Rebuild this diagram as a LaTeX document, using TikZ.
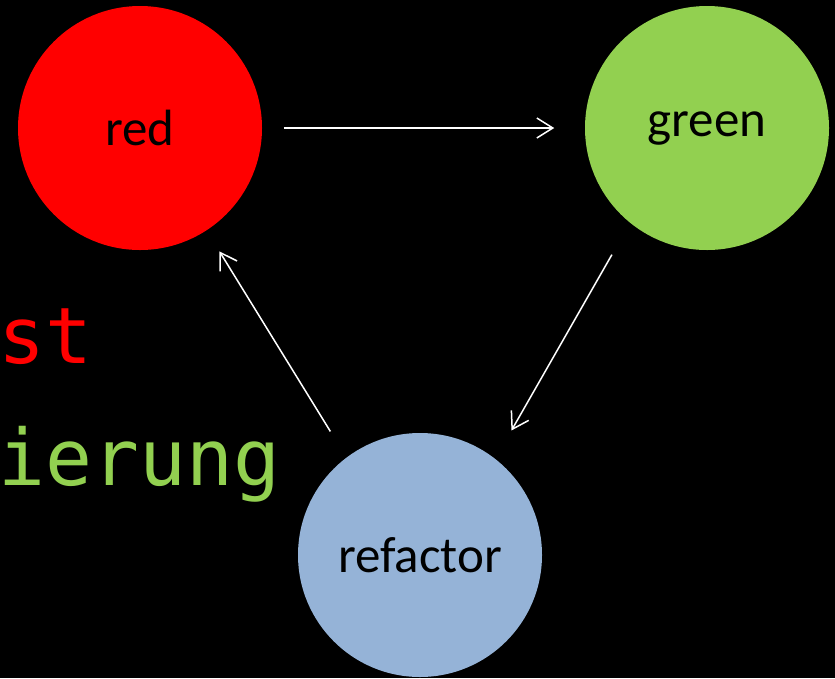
\documentclass[tikz,border=0pt]{standalone}
\usepackage{fontspec}
\setmainfont{Carlito}
\newfontfamily\codefont{DejaVu Sans Mono}
\usetikzlibrary{arrows.meta}

\definecolor{tddred}{RGB}{255,0,0}
\definecolor{tddgreen}{RGB}{146,208,80}
\definecolor{tddblue}{RGB}{149,179,215}

\begin{document}
\begin{tikzpicture}[x=1pt,y=-1pt,->,>={Straight Barb[length=16pt,width=20pt]},
  line width=1.5pt,
  main node/.style={circle,minimum size=244pt,inner sep=0pt,font=\fontsize{51}{61}\selectfont},
  code text/.style={anchor=base west,inner sep=0pt,font=\codefont\fontsize{78}{90}\selectfont}]

 \useasboundingbox (0,0) rectangle (835,678);
 \fill[black] (0,0) rectangle (835,678);

 \node[code text,text=tddred] (test) at (-2,363) {st};
 \node[code text,text=tddgreen] (impl) at (-2,485) {ierung};

 \node[main node,fill=tddred] (red) at (140,128) {red};
 \node[main node,fill=tddgreen] (green) at (707,128) {green};
 \node[main node,fill=tddblue] (refactor) at (420,555) {refactor};

 \path[white]
    (red.0)         edge [shorten <=21pt,shorten >=30pt] (green.180)
    (green.231)     edge [shorten <=36pt,shorten >=32pt] (refactor.52)
    (refactor.127)  edge [shorten <=30pt,shorten >=24pt] (red.303);

\end{tikzpicture}
\end{document}
